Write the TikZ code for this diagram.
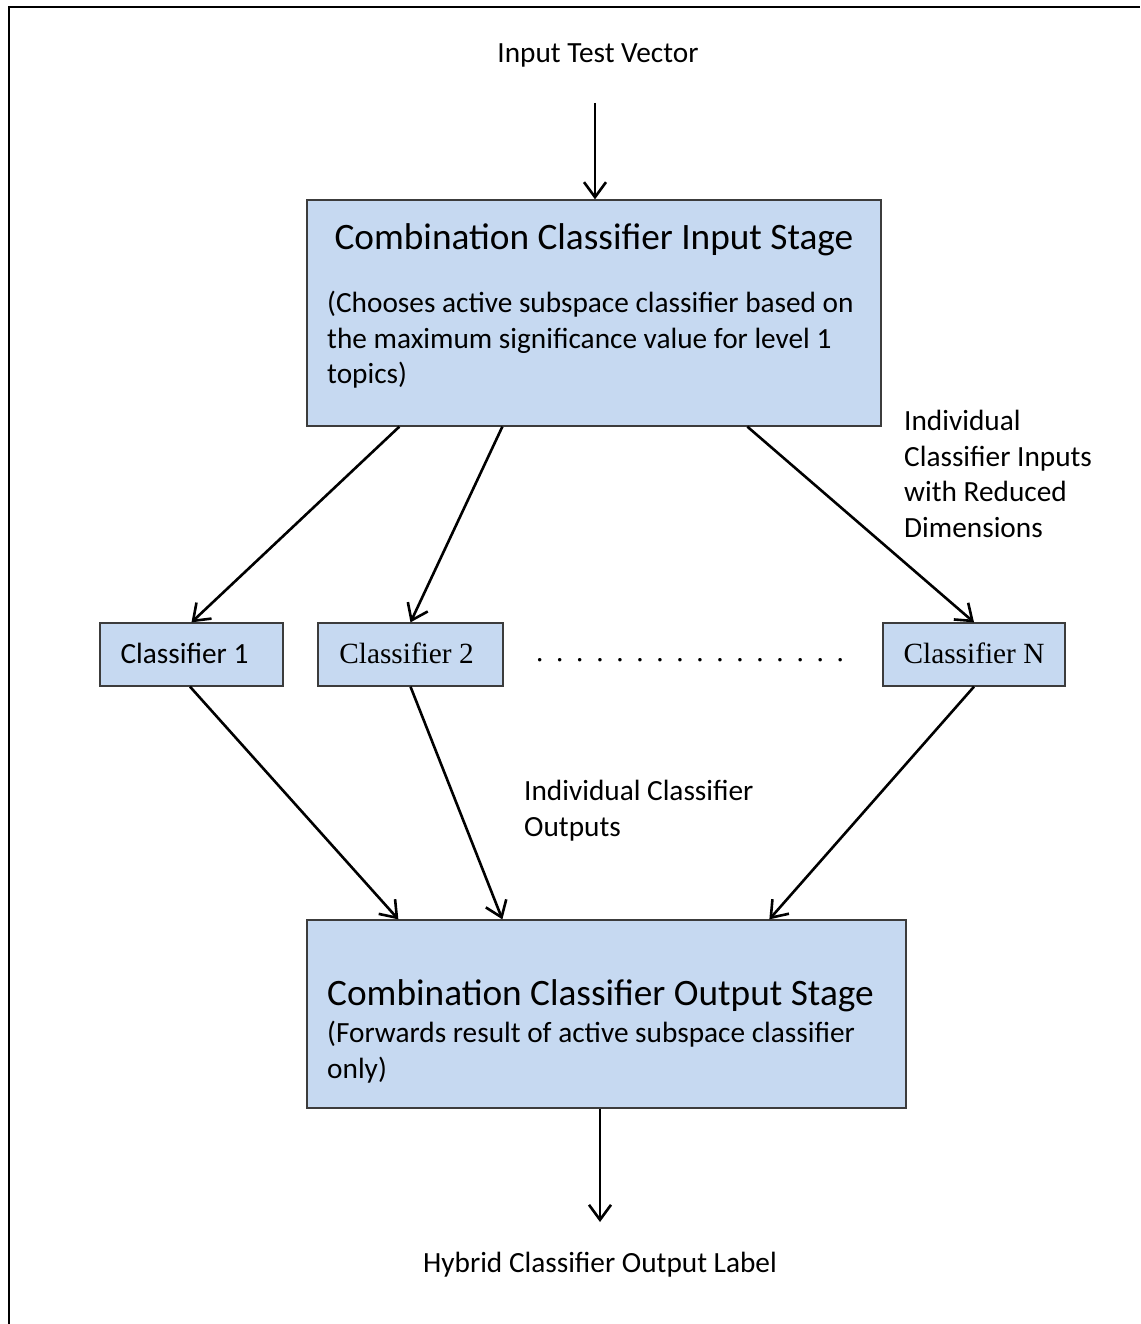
\documentclass[tikz,border=0pt]{standalone}
\usepackage{fontspec}
\setmainfont{Carlito}
\newfontfamily\timesf{Liberation Serif}
\usetikzlibrary{arrows.meta}
\definecolor{boxfill}{HTML}{C6D9F1}
\definecolor{boxline}{HTML}{3C3C3C}
% lines stacked left-aligned; the box baseline is that of the first line
\newcommand\stack[1]{\vtop{\halign{##\hfil\cr#1\crcr}}}
\begin{document}
\begin{tikzpicture}[x=1pt,y=-1pt,
  body/.style={font=\fontsize{29.3}{35.6}\selectfont, inner sep=0pt},
  serif/.style={font=\timesf\fontsize{29.3}{35.6}\selectfont, inner sep=0pt},
  title/.style={font=\fontsize{37.3}{44}\selectfont, inner sep=0pt},
  stage/.style={draw=boxline, line width=1.3pt, fill=boxfill, inner sep=0pt},
  flow/.style={line width=2.6pt, -{Straight Barb[length=15pt,width=22pt,line width=2.6pt]}},
  frame/.style={line width=2.4pt}]
\useasboundingbox (0,0) rectangle (1140,1324);

% outer frame (top and left edges)
\draw[frame] (9,1324) -- (9,7) -- (1140,7);

% input
\node[body, anchor=base] (inlabel) at (598,62.5) {Input Test Vector};
\coordinate (intop) at (595,103);

% input stage
\node[stage, minimum width=574pt, minimum height=226pt] (in) at (594,313) {};
\node[title, anchor=base] (intitle) at (594,249.5) {Combination Classifier Input Stage};
\node[body, anchor=base west] (indesc) at (327,312.5)
  {\stack{(Chooses active subspace classifier based on\cr
          the maximum significance value for level 1\cr
          topics)}};
\node[body, anchor=base west] (redlabel) at (904,430.5)
  {\stack{Individual\cr Classifier Inputs\cr with Reduced\cr Dimensions}};

% individual classifiers
\node[stage, body, minimum width=183pt, minimum height=63pt] (c1) at (191.5,654.5)
  {\raisebox{2pt}{Classifier 1}\kern14pt};
\node[stage, serif, minimum width=185pt, minimum height=63pt] (c2) at (410.5,654.5)
  {\raisebox{2pt}{Classifier 2}\kern8pt};
\node[stage, serif, minimum width=182pt, minimum height=63pt] (cN) at (974,654.5)
  {\raisebox{2pt}{Classifier N}};
\node[serif, anchor=base west] (dots) at (536,661)
  {\frenchspacing\spaceskip=12.7pt\xspaceskip=12.7pt . . . . . . . . . . . . . . . .};

\node[body, anchor=base west] (outlabel) at (524,800.5)
  {\stack{Individual Classifier\cr Outputs}};

% output stage
\node[stage, minimum width=599pt, minimum height=188pt] (out) at (606.5,1014) {};
\node[title, anchor=base west] (outtitle) at (327,1005.5) {Combination Classifier Output Stage};
\node[body, anchor=base west] (outdesc) at (327,1042.5)
  {\stack{(Forwards result of active subspace classifier\cr only)}};
\coordinate (outend) at (600,1222);
\node[body, anchor=base] (hyb) at (600,1272.5) {Hybrid Classifier Output Label};

% connectors
\draw[flow] (intop) -- (in.north -| intop);
\draw[flow] ([xshift=93pt]in.south west) -- (c1.north);
\draw[flow] ([xshift=196pt]in.south west) -- (c2.north);
\draw[flow] ([xshift=441pt]in.south west) -- (cN.north);
\draw[flow] ([xshift=-1.5pt]c1.south) -- ([xshift=92pt]out.north west);
\draw[flow] (c2.south) -- ([xshift=196pt]out.north west);
\draw[flow] (cN.south) -- ([xshift=463pt]out.north west);
\draw[flow] (out.south -| outend) -- (outend);
\end{tikzpicture}
\end{document}
